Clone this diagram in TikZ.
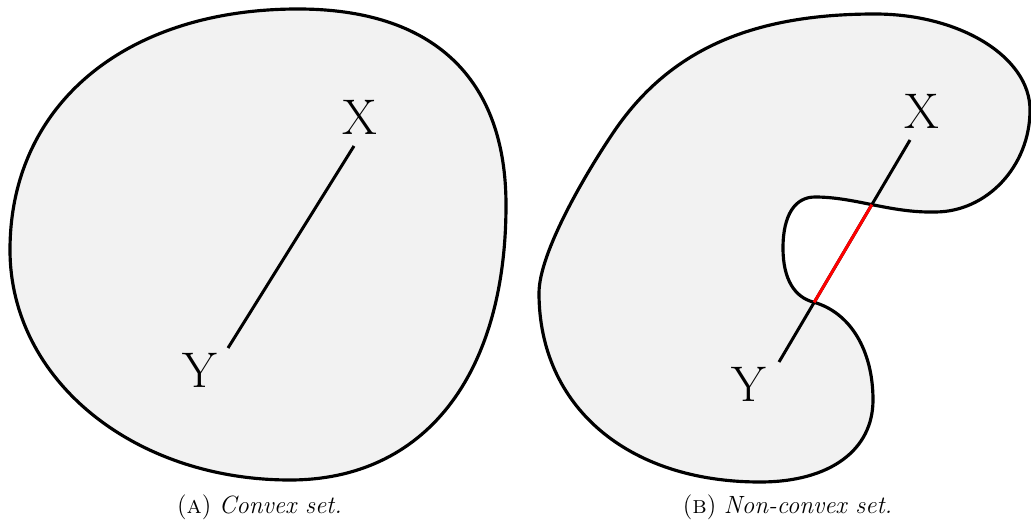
\documentclass[tikz,border=0pt]{standalone}
\usetikzlibrary{intersections}
\definecolor{setfill}{HTML}{F2F2F2}
\begin{document}
\begin{tikzpicture}[x=0.02cm, y=-0.02cm,
  setshape/.style={draw=black, fill=setfill, line width=1.8pt},
  chord/.style={line width=1.7pt},
  pointlabel/.style={inner sep=0pt, font=\fontsize{28.5}{34}\selectfont},
  subcap/.style={anchor=base, inner sep=0pt, font=\fontsize{14.2}{17}\selectfont}]
\useasboundingbox (0,0) rectangle (1031,523);

% convex set
\filldraw[setshape] (10,250) .. controls (10,105) and (125,9) .. (298,9)
  .. controls (433,9) and (506,78) .. (506,205)
  .. controls (506,376) and (424,480) .. (290,480)
  .. controls (134,480) and (10,380) .. (10,250) -- cycle;

\node[pointlabel] (xa) at (360,117.5) {X};
\node[pointlabel] (ya) at (200,370) {Y};
\coordinate (xa end) at (354,146);
\coordinate (ya end) at (228,348);
\draw[chord] (xa end) -- (ya end);

\node[subcap] (capa) at (259.5,513) {(\textsc{a})\hspace{0.3em}\textit{Convex set.}};

% non-convex set
\filldraw[setshape, name path=ncset] (539,293) .. controls (539,253) and (585,174.5) .. (613,133)
  .. controls (668,51) and (750,14) .. (875,14)
  .. controls (960,14) and (1030,57) .. (1030,110)
  .. controls (1030,166) and (987,212) .. (935,212)
  .. controls (890,213) and (855,197) .. (815,197)
  .. controls (795,197) and (783,215) .. (783,248)
  .. controls (783,280) and (795,297) .. (813,302)
  .. controls (850,312) and (873,350) .. (873,400)
  .. controls (873,450) and (830,482) .. (760,482)
  .. controls (627,482) and (539,406) .. (539,293) -- cycle;

\node[pointlabel] (xb) at (922,111) {X};
\node[pointlabel] (yb) at (749,384) {Y};
\coordinate (xb end) at (910,140);
\coordinate (yb end) at (779,362);
\draw[chord, name path=chordb] (xb end) -- (yb end);
\draw[chord, red, name intersections={of=ncset and chordb, sort by=chordb}]
  (intersection-1) -- (intersection-2);

\node[subcap] (capb) at (787.5,513) {(\textsc{b})\hspace{0.3em}\textit{Non-convex set.}};
\end{tikzpicture}
\end{document}
